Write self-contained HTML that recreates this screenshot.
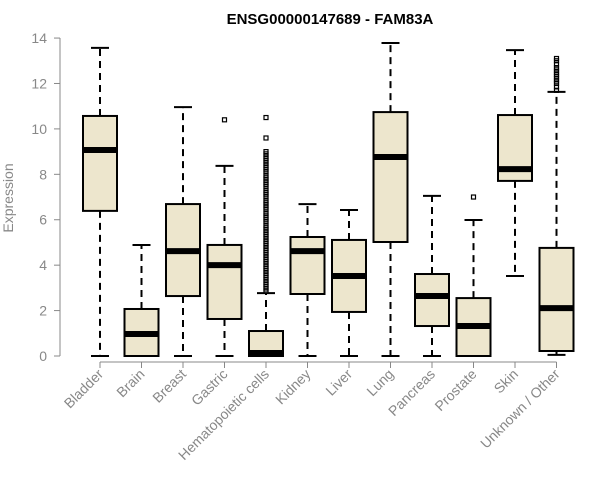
<!DOCTYPE html>
<html><head><meta charset="utf-8"><style>
body{margin:0;background:#fff}
svg{display:block;font-family:"Liberation Sans",sans-serif}
</style></head><body>
<svg id="c" width="600" height="500">
<text x="330" y="24" text-anchor="middle" font-weight="bold" font-size="15">ENSG00000147689 - FAM83A</text>
<text transform="translate(13,198) rotate(-90)" text-anchor="middle" font-size="14" fill="#888">Expression</text>
<g id="yaxis"></g>
<g id="boxes"></g>
<g id="xlabels"></g>
</svg>
<script>
const categories=["Bladder","Brain","Breast","Gastric","Hematopoietic cells","Kidney","Liver","Lung","Pancreas","Prostate","Skin","Unknown / Other"];
const mins=[0,0,0,0,0,0,0,0,0,0,3.52,0.05];
const q1s=[6.39,0,2.64,1.63,0,2.73,1.94,5.02,1.32,0,7.71,0.22];
const medians=[9.07,0.97,4.62,4.0,0.13,4.62,3.52,8.76,2.64,1.32,8.23,2.11];
const q3s=[10.57,2.07,6.69,4.89,1.1,5.24,5.11,10.74,3.61,2.55,10.61,4.76];
const maxs=[13.57,4.89,10.96,8.37,2.77,6.69,6.43,13.78,7.05,5.99,13.47,11.63];
const outliers=[[],[],[],[10.4],[2.85,2.95,3.05,3.15,3.25,3.35,3.45,3.55,3.65,3.75,3.85,3.95,4.05,4.15,4.25,4.35,4.45,4.55,4.65,4.75,4.85,4.95,5.05,5.15,5.25,5.35,5.45,5.55,5.65,5.75,5.9,6.0,6.1,6.2,6.3,6.45,6.55,6.65,6.75,6.85,7.0,7.1,7.2,7.3,7.45,7.55,7.65,7.75,7.85,7.95,8.1,8.2,8.3,8.4,8.5,8.6,8.7,8.8,8.9,9.0,9.6,10.5],[],[],[],[],[7.0],[],[11.7,11.85,12.0,12.1,12.2,12.3,12.4,12.5,12.6,12.7,12.85,13.0,13.1]];
const yticks=[0,2,4,6,8,10,12,14];
const NS="http://www.w3.org/2000/svg";
const y=v=>356-v*22.71;
const x=i=>100+41.5*i;
function mk(p,t,a){const e=document.createElementNS(NS,t);for(const k in a)e.setAttribute(k,a[k]);p.appendChild(e);return e;}
const ya=document.getElementById('yaxis');
mk(ya,'line',{x1:60,x2:60,y1:y(0),y2:y(14),stroke:'#888'});
yticks.forEach(t=>{
 const l=mk(ya,'line',{x1:54,x2:60,y1:y(t),y2:y(t),stroke:'#888'});
 
 
 const tx=mk(ya,'text',{x:47,y:y(t)+5,'text-anchor':'end','font-size':14,fill:'#888'});
 tx.textContent=t;
 
 
});
const bx=document.getElementById('boxes'),xl=document.getElementById('xlabels');
categories.forEach((c,i)=>{
 const cx=x(i),w=17;
 const g=mk(bx,'g',{});
 
 
 mk(g,'line',{x1:cx,x2:cx,y1:y(q3s[i]),y2:y(maxs[i]),stroke:'#000','stroke-width':2,'stroke-dasharray':'7,5'});
 mk(g,'line',{x1:cx,x2:cx,y1:y(q1s[i]),y2:y(mins[i]),stroke:'#000','stroke-width':2,'stroke-dasharray':'7,5'});
 mk(g,'line',{x1:cx-9,x2:cx+9,y1:y(maxs[i]),y2:y(maxs[i]),stroke:'#000','stroke-width':2});
 mk(g,'line',{x1:cx-9,x2:cx+9,y1:y(mins[i]),y2:y(mins[i]),stroke:'#000','stroke-width':2});
 mk(g,'rect',{x:cx-w,y:y(q3s[i]),width:2*w,height:Math.max(0,y(q1s[i])-y(q3s[i])),fill:'#ede6cd',stroke:'#000','stroke-width':2});
 mk(g,'line',{x1:cx-w,x2:cx+w,y1:y(medians[i]),y2:y(medians[i]),stroke:'#000','stroke-width':6});
 outliers[i].forEach(o=>{
  const p=mk(g,'rect',{x:cx-2,y:y(o)-2,width:4,height:4,fill:'none',stroke:'#000','stroke-width':1.2});
  
  
 });
 mk(xl,'line',{x1:cx,x2:cx,y1:362,y2:368,stroke:'#888'});
 const t=mk(xl,'text',{transform:`translate(${cx+4},${375}) rotate(-45)`,'text-anchor':'end','font-size':14,fill:'#888'});
 t.textContent=c;
 
 
});
mk(xl,'line',{x1:x(0),x2:x(11),y1:362,y2:362,stroke:'#888'});
</script>
</body></html>
